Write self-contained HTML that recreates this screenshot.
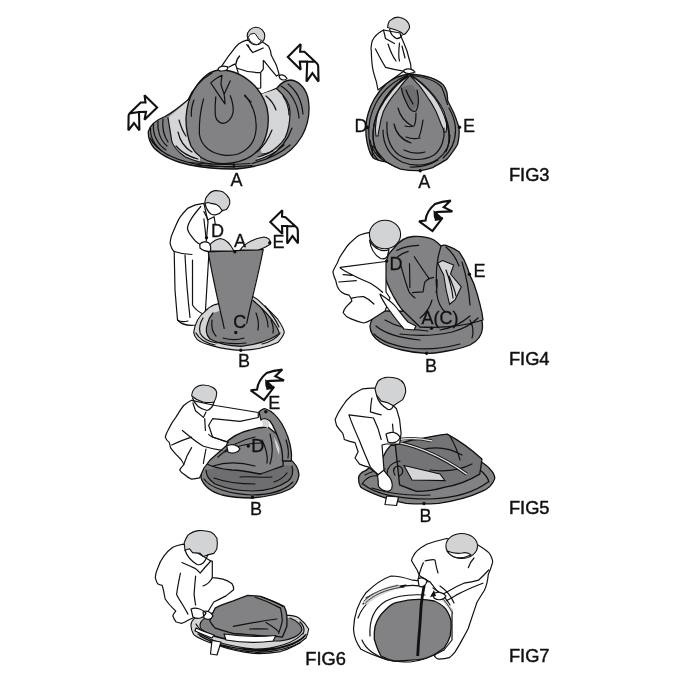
<!DOCTYPE html>
<html><head><meta charset="utf-8">
<style>
html,body{margin:0;padding:0;background:#fff;width:684px;height:684px;overflow:hidden}
svg{display:block}
text{font-family:"Liberation Sans",sans-serif;fill:#111;will-change:transform}
.d{fill:#828285;stroke:#111;stroke-width:1.3;stroke-linejoin:round}
.dn{fill:#828285;stroke:none}
.dk{fill:#6e6e71;stroke:none}
.l{fill:#d4d5d7;stroke:#111;stroke-width:1.1}
.ln{fill:#d4d5d7;stroke:none}
.w{fill:#fff;stroke:#111;stroke-width:1.2;stroke-linejoin:round}
.s{fill:none;stroke:#111;stroke-width:1.2;stroke-linecap:round;stroke-linejoin:round}
.h{fill:#d2d3d5;stroke:#111;stroke-width:1.1;stroke-linejoin:round}
.ar{fill:#fff;stroke:#111;stroke-width:2.1;stroke-linejoin:miter;stroke-miterlimit:2.6}
.lb{font-size:18px;stroke:#111;stroke-width:0.3}
.fg{font-size:18.3px;stroke:#111;stroke-width:0.45}
</style></head><body>
<svg width="684" height="684" viewBox="0 0 684 684">
<defs>
<path id="arD" d="M435,204 C440,202 446,201 450.7,200.6 L443.7,207.3 L452.4,211.4 C447,211.5 441,211.8 436.5,212 L436,219.5 L442.5,217.8 L432.5,231 L419.1,221.3 L425.5,220.5 C426,215 429,209 435,204 Z"/>
</defs>
<!-- ================= FIG 1 ================= -->
<g id="fig1">
<!-- person fig1 -->
<path class="w" d="M246.7,40.2 C243,41 240,43 238.8,43.7 C236,46 234,49 230,54.2 C227,58 224,63 221,67 L229,67 C231,66 233,65 235.3,63.9 C236,66 237,68 237,69 L238,72 L239,90 L260.7,88 L260.7,72.6 C261,72 262.5,70 263.3,69.1 L263.3,60.4 L264.2,61.2 C268,66 272,71 276.5,76.1 L279.1,74.4 C278.5,72 277.5,69 276.5,65.6 C275,62 273,59 271.2,55.1 C271,52 270,49 268.6,46.3 C267,45 265,43.5 262.5,42 Z"/>
<path class="s" d="M239.6,56 C237,59 236,62 236.1,64 M237,68.2 C244,71 252,72.5 259.8,72.6 M246.7,44.6 L252.8,52.5 L263.3,48 M248,45 C249,48 250,50 252.8,52.5"/>
<path class="d" d="M148.3,131.7 C150,125 156,120 165,116.5 C175,111 182,105 189,99 L262,94 C268,92 273,90 277,88 C281,83 286,80 291,80 C300,81 307,90 308.5,101 C310,112 308,125 302,136 C296,146 288,154 278,158.3 C268,163 258,166 248,167.5 C240,168.5 236,169 233,169 C220,169 205,168 190,165 C176,162 162,156 154,148 C150,143 148,138 148.3,131.7 Z"/>
<path class="ln" d="M168,117.5 C175,112 182,106 190,99 L200,99 L200,166 L212,164 C201,163 192,160 185,156.7 C177,151 172.5,146 171.5,140 C170.5,132 169,125 168,117.5 Z"/>
<path class="s" d="M168,117.5 C169,125 170.5,132 171.5,140 C172.5,146 177,151 185,156.7 C192,160 201,163 212,164"/>
<path class="ln" d="M258,95 C265,93 271,91 277,89 C285,96 290,104 290,112 C290,122 289,130 285,138 C281,144 276,148.5 270,152 C267,153.5 264.5,154 262,154 L260,148 Z"/>
<path class="s" d="M277,89 C285,96 290,104 290,112 C290,122 289,130 285,138 C281,144 276,148.5 270,152 C267,153.5 264.5,154 262,154 M256,160.5 C266,157.5 276,152 284,145 M252,163.5 C266,160 280,154 290,145 M258,157 C264,155.5 269,153.5 273,151"/>
<path fill="none" stroke="#e8e8e8" stroke-width="0.9" d="M257,158.6 C265,156.5 272,153 278,149"/>
<path class="s" d="M190,162.5 C210,165 230,165 250,163.5 M195,165 C212,167 232,167.2 252,165.7"/>
<path fill="#111" d="M232.8,163.5 L234.8,163.5 L234.8,167.5 L232.8,167.5 Z"/>
<path class="s" d="M150,138 C156,150 172,159 195,164 C210,166 225,167 235,167 M150.5,128 C150,138 156,148 168,155 M153.5,124 C152.5,134 157,144 166,150 M158,121 C157,130 160,140 167,146 M163,119 C162,128 164,136 168,142 M178,132 C180,141 185,148 192,152 M179,120 C181,127 183,132 186,136 M176,146 C182,153 190,157 198,159"/>
<path class="s" d="M281,86 C291,92 298,104 299,118 M288,84 C297,91 302,102 303,114 M283,96 C287,102 289,110 289,115 M266,96 C271,100 274,104 276,110 M272,130 C268,140 263,147 257,152 M292,128 C288,140 280,150 268,158"/>
<path class="d" d="M221,70 C234,70 246,77 255,86 C262,94 267,103 268,114 C269,125 267,136 262,145 C256,155 245,161 232,163 C226,164 220,164 215,163 C205,161 196,155 191,146 C187.5,137 185.8,127 186,118 C186.5,108 189,98 194,90 C200.5,79 210,70 221,70 Z"/>
<path class="s" d="M188,100 C192,90 200,80 212,73 M203.5,98.8 C200,112 199,124 199.4,134 M191.3,116.2 C191,110 192,105 194,100"/>
<path class="s" d="M245,95 C253,105 257,118 256,130 C255,142 248,150 238,154 C228,157 216,155 208,149 C203,145 200,140 199.4,134"/>
<path class="s" d="M215.8,96.8 C215,103 215,110 215.3,115.2 C216,120 219,123 223,123.4 C228,123 232,118 233.2,112.1 C233.5,106 232,100 230.2,95.7"/>
<path class="s" d="M210.7,82.9 C214,80 218,77 222,75.3 C221.5,78 221,81 221,84.5 C222,88 223,91 224,93.7 C224.5,97 225,100 225,104 C220,97 215,89 210.7,82.9 Z M230.2,80.9 C228,86 226,90 224,94.7"/>
<path class="s" d="M244.5,95.7 C247,98 249,100 251,102"/>
<circle class="h" cx="256" cy="36" r="8.8"/>
<path fill="#fff" stroke="#111" stroke-width="1" d="M248.4,37.5 C249,35 250.5,33.5 252,34 C253.5,33 255,33.5 255.4,34 C257,36 258,38 259,39.3 C260,40 261,40.3 261.6,40.2 C260,43 258,44.6 256.3,44.6 C252,44 249.5,41 248.4,37.5 Z"/>
<path class="w" d="M218,69 C219,66 224,65.5 227.5,67 C228.5,69.5 226,71 221,71 C219,71 218,70 218,69 Z M279,76 C281,74 285,75 287,78.5 C285.5,80.5 282,80.5 280,78.5 Z"/>
<text class="lb" x="230.4" y="185.8">A</text>
<path class="ar" d="M157.1,107.5 L144.5,95.2 L145.5,102.5 L140.7,102.5 L130,113 C129.2,113.8 128.6,114.8 128.6,116 L128.4,130.3 L134,123 L139.4,130.3 L139,112 L146,111.9 L144.5,119.8 Z M129.5,113.5 L139,112"/>
<path class="ar" d="M287.8,57 L300.7,44.1 L300.1,51.7 L304.5,51.7 L317,63.6 C317.8,64.4 318.2,65.4 318.2,66.6 L318.5,81.6 L312.4,73.1 L306.5,81.6 L307.2,61.6 L299.8,61.6 L300.7,69.8 Z M307.2,61.6 L316,61.8"/>
</g>
<!-- ================= FIG 2 ================= -->
<g id="fig2">
<!-- person fig2 -->
<path class="w" d="M383.5,30 C378,33 374,37 372.3,40.7 C371,46 371,50 371.3,51 C371.5,60 372,66 373.3,71.4 C374.5,76 375.5,79 376.4,82 L378,90 L386,84 L404,71 L411.2,70.4 C411,67 410.5,65 410.7,64.2 C409,59 408,55 407,51 C405,46 403,41 401,36.6 L400,33 Z"/>
<path class="s" d="M375.4,48.9 C379,56 382,62 385.6,67.3 C392,69 399,70.5 405,71.4 M383.5,30 L385.5,38.5 L394.5,43.5 M388,44 C390,50 393,57 396,61 M399.5,43 C398.5,52 398.5,58 399.5,61 M402,46 L405,58"/>
<path class="h" d="M387.6,27.4 C388,22 390,20 390.7,20.2 C393,18 396,17 398.9,17.2 C402,17.5 404,18.5 406,20.2 C408,22 409.5,25 409.6,27.4 C409,30 407,32 405,34 C403.5,35 402.5,34 402,33 C398,30 392,29 387.6,27.4 Z"/>
<path class="s" d="M389.7,29.4 C390.5,34 393,37 397,38.7 C399.5,38.5 401,37 402,35"/>
<path class="d" d="M409,74 C400,75 392,79 386,84 C378,92 371,103 368,114 C365,124 365.5,134 367,142 C368.5,149 370,154 372.8,157.4 C376,160 381,161 386,161.8 C391,165 396,167.5 400.5,169.1 C408,170.5 414,171 420.3,170.6 C425,170 429,169 432.7,167.6 C438,164.5 443,162 447.3,158.9 C452,153 455.5,148 457.6,144.2 C459,138 459.5,133 459,128.2 C458,124 457.5,123 457.4,122.6 C455.5,117 454,113 452.1,109.5 C450,105 448.5,103 447.7,100.7 C447.5,97 447.3,94 446.8,91.9 C445.5,88 444.5,86.5 443.3,84.9 C437,79 427,75 409,74 Z"/>
<path class="l" d="M412.4,75.9 C417,79 421,82 424.2,85.2 C429,90 433,94 436,98.3 C439.5,103 442,107 444,111.5 C445.5,115.5 446.3,120 446.6,124.6 C446.8,127 446.5,130 446,132 L444,132 C443.5,129 442.5,127 441.3,124.6 C439.5,120 438,116 436,111.5 C433.5,106.5 431,102 428.2,98.3 C425,93.5 422,89 418.9,85.2 C416,82 413.5,79 410.5,76 Z"/>
<path class="l" d="M407,76 C401,81 395.5,86 391.3,91.7 C386,98 381.5,105 378.2,111.5 C376.5,116.5 375.7,122 375.5,127.3 C375.4,130 375.6,133 376,136 L378,136 C378.3,133 378.8,130 379.5,127.3 C380.3,122 381.5,116.5 383.4,111.5 C386.5,105 391,98 396.6,91.7 C400.5,86.5 404.5,81 409,76.5 Z"/>
<path class="dk" d="M400.8,88 C404,86 408,85 412,85 C416,88 418.4,95 418.4,103 C417,108 414,110 411,110 C407,106 404,100 401.5,94 Z"/>
<path class="s" d="M409,74.5 C400,80 392,88 386,97 C378,109 373,122 373,134 C373,144 376,152 381,158 M409,74.5 C418,80 427,88 434,97 C440,105 444,114 447,124 C450,134 450,144 446,152"/>
<path class="s" d="M383,130 C383,145 390,156 402,162 C414,167 428,166 438,159 C446,153 450,144 450,135 M387,122 C386,136 390,148 399,155 C409,161 424,161 434,155 C442,149 445,138 444,128 M370,140 C372,152 380,160 392,165"/>
<path class="s" d="M401.5,88 C402,94 405,100 408,106 C410,110 413,112 416,111 C419,106 419,98 417,90 M406,90 C408,96 411,100 413,104"/>
<path class="s" d="M398,108 C400,116 405,122 412,126 M416,113 C416,119 416,123 414,126 C411,127 408,127 405,126 M394,124 C396,133 402,140 411,143 M406,137 C411,139 416,139 420,138 M423,120 C422,127 421,132 419,137 M404,150 C410,153 418,154 425,152"/>
<path class="s" d="M372.8,157.4 C372,152 372,148 373,146 C376,150 380,155 386,161.8"/>
<path class="s" d="M407,75.5 C395,80 383,90 376,103 C370,114 368,126 369,138 C370,148 373,155 378,160 M408,76.5 C397,83 387,93 380.5,106 C375.5,116 372.5,127 373,138 C373.5,146 376,152 380,157 M412,75.5 C425,77 436,81 441.5,87 C444.5,93 445.5,99 447.5,104.5 M449,108 C453,115 455.5,122 455.5,130 C455.5,141 451,151 443,158 M438,160 C430,165 420,167.5 410,167 M446,118 C449,126 450,134 449,142"/>

<circle cx="367.4" cy="127.4" r="1.8" fill="#111"/><circle cx="459.5" cy="127.3" r="1.7" fill="#111"/><circle cx="420.2" cy="170.7" r="1.7" fill="#111"/>
<path class="w" d="M404,70 C408,68 413,69 415,72 C411,74 406,74 404,72 Z"/>
<text class="lb" x="354.4" y="132.3">D</text>
<text class="lb" x="463.1" y="132.1">E</text>
<text class="lb" x="418.2" y="187.8">A</text>
</g>
<!-- ================= FIG 3 ================= -->
<g id="fig3">
<!-- person fig3 -->
<path class="w" d="M203.9,203.4 C200,204 197,204.5 195.7,204.9 C192,206 189.5,207.5 187.5,208.5 C184,212 182,214.5 180.4,216.7 C178,220 176.5,224 175.2,226.9 C173.5,231 172,234 171.1,237.2 C170.5,240 170,242 170.1,243.3 C171,247 172.5,250 174.2,251.5 L175,290 L177.5,320 C181,324 188,326 196,325 L205,318 L209,252 L206,244 L208,222 Z"/>
<path class="s" d="M200.8,206.5 C196,212 192,217 189.6,221.8 C188,225 187.3,227 187.5,229 C188,231 189,233 190.6,235.1 C192,237 194,239.5 195.7,241.3 C197,242.5 198.5,243.5 199.8,244.3 M203.9,218.8 C204.5,225 205.5,232 205.9,237.2 M203.9,211.6 L208,219.8 L214.1,216.7 L215.2,223.9 M185,255 C186,275 188,300 190,317.5 M192.5,260 C192.5,280 192.5,295 192.5,305 C195,309 199,312 202.5,313.8 M174.2,251.5 C180,253.5 186,254.5 192,254.5 M177.5,320 C180,322 184,322 188,321"/>
<path class="h" d="M204.9,203.4 C205,199 206,197 208,195.2 C210,192 212.5,191 215.2,190.6 C218,190.5 221,191 223.3,192.1 C226,194 228,196 229,198.3 C229.8,200 230,202 229.5,204.4 C228.5,207 227.5,208.5 226.4,209.5 L222.3,210.6 L219.2,206.5 L216.2,204.4 L211.1,203.4 L208,202.4 Z"/>
<path class="s" d="M205,203.5 C206,208 208,212 211,214 C213,215 215,215 216.2,214.7 C219,214 221,212.5 222.3,210.6"/>
<path class="l" d="M193.7,332.4 C195,323 199,316 204.6,311.9 C208,308 211,306 214.9,304.6 L251.4,295.8 C256,298 260,301 263.1,304.6 C269,310 274,315 277.7,319.2 C281,324 284,329 284.3,332.4 C283,337 280,340 277.7,342.6 C268,347 255,350 241.2,350.4 C230,350 220,348 211.9,345.6 C205,344 200,342 197.3,339.7 C195,337 194,335 193.7,332.4 Z"/>
<path class="s" d="M196,333 C199,339 206,343 215,345 M200,333 C203,339 209,342 217,343 M280,333 C277,338 270,342 262,344 M265,306 C271,313 276,320 279,327 M203,318 C200,323 199,328 200,332"/>
<path class="dn" d="M207.5,323.6 C208.5,319 210.5,316 213,313 L252.9,300.2 C262,308 270,316 275.5,325 C278,329 279.5,332 279.2,333.9 C270,340 257,344.5 241.2,346.3 C228,346 217,343 210,339 C206,335 205.5,329 207.5,323.6 Z"/>
<path class="s" d="M213,313 C210.5,316 208.5,319 207.5,323.6 C205.5,329 206,335 210,339 C217,343 228,346 241.2,346.3 C257,344.5 270,340 279.2,333.9 C279.5,332 278,329 275.5,325 C270,316 262,308 252.9,300.2"/>
<path class="dn" d="M208.2,251.8 L263.2,249.3 C259,270 252,295 246.7,323.3 L224.2,328.3 C218,300 212,275 208.2,251.8 Z"/>
<path class="s" d="M208.2,251.8 C213,280 219,305 224.2,328.3 M263.2,249.3 C259,272 252,298 246.7,323.3 M208.2,251.8 L263.2,249.3"/>
<path class="s" d="M212,320 C211,328 213,333 216,336 M223,338 C230,340 238,340 244,338 M220,342 C228,344 238,344 246,343 M262,309 C266,315 268,321 268,327 M256,313 C258,318 259,324 258,330 M271,320 C273,325 274,329 273,333"/>
<path class="l" d="M207.3,251 C208,245 213,240 220,238.5 C226,239 231,245 234,251 Z"/>
<path class="l" d="M240,250 C245,243 255,238 264,237 C268,237.5 271,240 270.5,244 C266,247 262,249 258,250 Z"/>
<path class="w" d="M199.8,244.3 C202,241.5 206,241 209,243 C211,246 211,249.5 210,251.5 C206,251.5 202,250 200,248 Z"/>
<circle cx="234.8" cy="251.8" r="1.7" fill="#111"/><circle cx="206.5" cy="237.7" r="1.7" fill="#111"/><circle cx="269.8" cy="242.7" r="1.7" fill="#111"/><circle cx="235.8" cy="332.5" r="1.7" fill="#111"/><circle cx="240.8" cy="350.3" r="1.7" fill="#111"/>
<text class="lb" x="210.9" y="237.4">D</text>
<text class="lb" x="234" y="246.7">A</text>
<text class="lb" x="272.5" y="247.6">E</text>
<text class="lb" x="233.2" y="328.3">C</text>
<text class="lb" x="237.9" y="366.9">B</text>
<path class="ar" d="M270.3,222 L282.3,210.3 L282,216.7 L285.5,217.3 L296.7,227.6 C297.4,228.3 297.8,229.3 297.8,230.4 L298,243.3 L292.5,236 L287.2,243.6 L287.2,226 L282,226 L282.3,233.7 Z M287.2,226 L296,226.3"/>
</g>
<!-- ================= FIG 4 ================= -->
<g id="fig4">
<path class="d" d="M370,326 C370.5,319 376,314 385,311 L476,312 C481,316 483,322 482.5,328 C482,335 478,341 470,345 C462,348 455,350 447,351 C440,352.5 432,353.5 426.6,353.4 C418,353 410,352 402,350 C393,348 386,346 380,342 C374,338 370,333 370,326 Z"/>
<path class="d" d="M394,248 C399,241 406,237 413,236.5 C420,236 428,237 434,240 C437,242 439,244 440.7,245.8 C443,245 445,245 446,245.3 C451,247 455,249 459,251.7 C462,256 465,261 467.1,266.9 C468,269 468.8,272 469.4,274 C471,278 472.8,281 474.1,284.4 C476.5,291 478.5,298 480,304.3 C481.5,310 482.5,315 483,320 C465,326 440,328 420,327 L401.7,309.3 C397,303 395,299 393.3,296 C389,288 386,281 384,274 C383,268 383.5,264 385,261 C387,256 390,252 394,248 Z"/>
<path class="l" d="M442.5,260.5 L453.7,265.1 L450.5,274 L461.3,286.8 L455,300 L449.6,304.3 C447,295 445,285 443.7,275 C441,270 439,266 438,263 Z"/>
<path class="s" d="M446,270 C449,278 452,288 453,298 M449,276 C452,283 455,290 456,296"/>
<path class="s" d="M374,334 C382,342 395,346 410,348 C425,350 445,348 460,344 M376,326 C385,334 400,338 420,340 M385,320 C395,326 410,330 428,331 M400,334 C415,336 435,336 452,332 C463,329 472,324 478,318 M470,320 C473,326 474,332 472,338 M440,330 C452,328 462,323 470,316"/>
<path class="s" d="M396.8,250.5 C403,247 411,245.5 418.7,245.3 M397.6,256.7 C401,254 404.5,252.5 408.2,251.4 M401.1,266.3 C403.5,275 406,284 409,291.8 C411,294.5 413,296.5 415,298 M409.5,263.7 C409.7,272 409.8,280 409.9,287.4 M414.3,256.7 C419,264 424,271.5 429.2,278.6 L433.6,277.3 M429.2,278.6 C427.5,279.5 426,280.8 424.8,282.1 C424,285 423.5,288.5 423.1,291.8 C419.5,292 416,292.3 412.5,292.6 M437.1,279.5 C437.5,284 437,288.5 436.2,292.6 M441,246 C437,258 435,275 437,295 C438,302 441,308 445,312 M462,262 C466,275 469,290 470,305 M432,300 C430,308 425,314 420,318 M446,247 C452,252 456,258 459,266"/>
<!-- person fig4 -->
<path class="w" d="M369.5,232.3 C365,233 362,234 359.2,235.2 C355,238 352,241 349,244 C346,247 344,251 341.7,254.2 C339.5,257 338.5,260 337.3,263 C335.5,266 334,269 332.9,271.8 C333.5,275 334.5,278 335.8,280.6 C336.3,283 336.8,285 337.3,286.4 C338.5,289 340,291 341.7,292.3 C344,294 346.5,294.8 349,295.2 C350.5,297 351.5,299 351.9,301 C350,303 348,305 346.1,306.9 C344.5,309 343.5,311 343.2,312.7 C345,315.5 347.5,317.5 350.5,318.6 C355,320.5 359,322 363.6,323 C366,322.5 368.5,321.5 370.9,320 L385,311 L390,298 L386,292 L386,262 L388,256 L378,250 Z"/>
<path class="s" d="M340.2,267.4 L385.6,261.5 M340.2,268.1 C343,270 346,272 349,273.2 C356,277 363,280 370.9,283.5 C375,286 379,289 382.6,292.3 M343.2,274.7 C346,275 349,275.2 352,275.4 M338.8,282 C345,281.5 351,281 356.3,280.6 M351.9,298.1 C356,297 360,296.5 363.6,296.6 C367,298 371,301 373.9,304 M371,244 C373,248 375.5,251.5 378.2,254.2 C380,256 382,257.5 384.1,258.6"/>
<path class="w" d="M380,294 C386,298 392,302 396,307 C400,312 404,318 408,322 L416,326 L414,330 L404,329 C398,322 392,314 387,307 C384,302 381,298 380,294 Z"/>
<ellipse class="h" cx="385" cy="234.5" rx="15.6" ry="14.2"/>
<path class="w" d="M369.5,240 C370.5,248 374.5,255 380.5,258.5 C383.5,259.5 386,258.5 387.5,256 L389,249.5 C385,251.5 380,250.5 376,248 C373,246 371,243.5 369.5,240 Z"/>
<circle cx="386.7" cy="261" r="1.7" fill="#111"/><circle cx="469.4" cy="274.2" r="1.7" fill="#111"/><circle cx="431.5" cy="328.3" r="1.7" fill="#111"/><circle cx="426.6" cy="353.2" r="1.7" fill="#111"/>
<text class="lb" x="389.6" y="270.3">D</text>
<text class="lb" x="473.6" y="277.4">E</text>
<text class="lb" x="421.5" y="324.3">A(C)</text>
<text class="lb" x="425.1" y="372">B</text>
<use href="#arD" class="ar"/>
<path fill="#111" d="M433.5,210.3 L436.5,212.3 L442.5,217.9 L440,220.3 L435.2,220.5 L433.8,216.7 Z"/>
</g>
<!-- ================= FIG 5 left ================= -->
<g id="fig5a">
<path class="d" d="M201,478 C201,470 203,464 208,461 C215,459 225,459 235,459 L288,458 C295,462 299,469 299,475 C298,482 295,486 290,489 C280,494 266,497 252,498 C240,498 230,497 222,495 C212,492 204,487 201,478 Z"/>
<path class="dk" d="M206,470 C214,468 222,469 232,470 C245,472 255,474 262,474 C270,472 278,468 284,465 L292,466 C294,472 292,478 288,481 C278,488 265,491 252,491 C238,491 225,488 215,484 C209,480 206,475 206,470 Z"/>
<path class="s" d="M206,470 C206,475 209,480 215,484 C225,488 238,491 252,491 C265,491 278,488 288,481 C292,478 294,472 292,466 M204,479 C210,488 230,494 252,495 C270,495 285,490 293,482 M214,478 C225,482 240,484 255,484 M240,477 C250,476 262,478 272,477 M274,482 C280,480 284,477 287,473"/>
<path class="d" d="M207,464 C210,458 215,452 222,446 C230,438 240,432 250,430 C256,428 262,427 268,427 L284,440 L283,466 C276,468 268,472 260,474 C250,472 240,470 232,470 C222,469 214,468 207,464 Z"/>
<path class="d" d="M259,412 C262,409 264,408 266,409 C272,411 277,416 282,424 C287,433 290,442 291,450 C292,455 291.5,458 291.3,461 L282.5,461 C283,452 281,445 279,440 C276,432 273,425 270,421 C266,418 263,418 261,420 Z"/>
<path class="ln" d="M262,421 C265,419 268,420 269.5,423 L268,428 L263,426 Z M274,437 C276,440 278,444 279.5,449 L279,455 C277,450 275,444 274,437 Z"/>
<path class="s" d="M218,457 C228,447 240,440 255,437 M225,452 C236,446 248,443 262,443 M213,466 C225,462 240,462 255,466 M262,440 C266,448 268,456 267,463 M270,434 C273,445 273,455 270,464 M286,440 C288,446 289,452 288,458"/>
<!-- person fig5a -->
<path class="w" d="M191.6,400.3 C188,402 185.5,404 183.7,405.5 C180,410 178,414 175.8,417.4 C172,422 170,426 167.9,430.5 C166.5,433 165.5,435 165.3,437.1 C166,439.5 167.5,441 169.2,442.4 C169.8,444 170.2,446 170.5,447.6 C172,450 174,452 175.8,454.2 C177.5,456 179.5,458 181,459.5 C182.5,461.5 183.5,463 183.7,464.7 C182,466.5 180.5,468 179.7,470 C180.5,471.5 182,473 183.7,474 C186,476 189,478 191.6,479.2 C194,479 197,478.5 199.5,477.9 L204,468 L210,460 L226,446 L228,442 L212.6,437 L208.7,425.3 L212.6,418.7 L240,421.3 L258.3,417.5 L258.3,412.5 L240,409.5 L215.3,405.5 Z"/>
<path class="s" d="M171.8,445 C178,442 185,439 191.6,437.1 M182.4,430.5 C189,436 196,442 203.4,446.3 C209,448 215,449.5 221.8,450.3 M191.6,447.6 C188,453 185.5,459 183.7,464.7 M206,449 C205,454 204,459 203.4,463.4 M208.7,434.5 C209.5,435.5 211,436.5 212.6,437.1 C218,439 223,441 228.4,442.4 M192.9,402.9 L195.5,410.8 L203.4,417.4 L206,412.1 M204.7,418.7 L205.4,430.5"/>
<path class="h" d="M191.7,396 C192,389 197,385 203.3,385 C211,385 216.7,389 216.7,393.3 C216.5,397 215.5,400 214,402 C210,403 206,402.5 203,402 C199,401 195,399 191.7,396 Z"/>
<path class="s" d="M192.5,398 C195,405 200,409 207,410.5 C210.5,409.5 213,406 214,402"/>
<path class="w" d="M226.7,446 C232,443 238,445 240,449 C238,453 232,454 228,452 Z"/>
<circle cx="265.8" cy="411.8" r="1.7" fill="#111"/><circle cx="248.3" cy="446" r="1.7" fill="#111"/><circle cx="252.5" cy="497.2" r="1.7" fill="#111"/>
<text class="lb" x="268.3" y="408.7">E</text>
<text class="lb" x="251.2" y="451.8">D</text>
<text class="lb" x="249.9" y="514.9">B</text>
<use href="#arD" class="ar" transform="translate(-168.4,169)"/>
<path fill="#111" transform="translate(-168.4,169)" d="M433.5,210.3 L436.5,212.3 L442.5,217.9 L440,220.3 L435.2,220.5 L433.8,216.7 Z"/>
</g>
<!-- ================= FIG 5 right ================= -->
<g id="fig5b">
<path class="d" d="M358.5,478.4 C359,474 362,472 365,470.9 C372,466 378,462 383,457 C385,452 388,448 391,445 L420,446 L481.9,462.2 C486,465 489,467 490.5,469.8 C493,472 494.5,475 494.8,478.4 C493,484 488,489 481.9,491.4 C470,497 455,501 438.6,503.3 C428,504 416,504 406.1,503.3 C395,501 384,498 373.6,493.6 C367,491 363,489 360.7,487.1 C359,484 358.5,481 358.5,478.4 Z"/>
<path class="s" d="M363,484 C375,494 400,499 430,499 C455,498 475,492 488,482 M365,475 C370,472 378,470 385,469 M480,470 C485,474 488,478 489,482 M372,488 C390,494 410,496 430,495"/>
<path class="d" style="fill:#747477" d="M395.3,444.9 C403,442 410,440 416.9,439.5 C428,437 438,435 447.2,434.1 C460,441 472,450 481.9,459 C481.5,464 480.5,469 479.7,474.1 C470,480 458,485 445.1,487.1 C435,490 425,491.4 416.9,491.4 C410,489 404,487 399.6,484.9 Z"/>
<path class="s" d="M420,450 C435,446 450,448 462,455 M430,470 C445,472 460,470 472,464 M450,436 C455,445 458,452 460,460"/>
<path d="M393,440.5 C405,438 420,438 432,441" fill="none" stroke="#111" stroke-width="3.2"/>
<path d="M393,440.5 C405,438 420,438 432,441" fill="none" stroke="#e0e0e0" stroke-width="1.3"/>
<path d="M391,441.6 C410,443 440,455 466.7,474.1" fill="none" stroke="#111" stroke-width="3.4"/>
<path d="M391,441.6 C410,443 440,455 466.7,474.1" fill="none" stroke="#e0e0e0" stroke-width="1.4"/>
<path class="l" d="M404,465.5 L440,474 L445,480.6 L412,480 Z"/>
<path class="s" d="M395,475 C392,470 394,466 399,466 C404,468 404,474 399,476 M390,479 C384,473 388,463 400,461 M362,484 C366,478 372,475 378,476"/>
<path class="w" d="M386.6,496 L398.5,497 L396.5,505.5 L385,504.5 Z"/>
<path class="w" d="M376,471.5 C377.5,475 378.3,478 378.2,481 C378,483 378.3,485 378.7,486.7 C380,488.5 381.5,489.5 383.4,490.2 C385,491 386.5,491.4 388.1,491.4 C389.5,490.8 390.8,490 391.6,489 C392.3,487 392.4,485.5 392.2,483.8 C391.8,482 391.2,480 390.4,478.5 C389.5,477 388.5,476 387.5,475 C386,472.5 384,470.5 382.2,469 Z"/>

<!-- person fig5b -->
<path class="w" d="M375,388.1 C370,388 366,388.3 362.7,388.8 C358,391 355,393 352,395 C348,398.5 345,402 342.8,405.7 C339,411 337,415 335.1,419.5 C335.5,421.5 336,423.5 336.6,425.7 C338.5,428.5 340.5,431 342.8,433.4 C343.5,435.5 344,437.5 344.3,439.5 C348,441 351.5,442 355,442.6 C356,445.5 357,448.5 358.1,451.8 C357,454 356,456 355,458 C356.5,460 358,462 359.6,464.1 C362.5,465.5 365.5,466.5 368.9,467.2 L378.1,474.8 L384,470 L382,445 L386,444 L399.6,444 L401.1,433.4 L399.6,419.5 L396.5,408.8 Z"/>
<path class="s" d="M348.9,414.9 C352,424 356,433 359.6,441 C363,450 367,459 370.4,467.2 C373,470 375.5,472.5 378.1,474.8 M348.9,414.9 C357,416 365,417 373.5,418 C375,421.5 376.5,425 378.1,428.8 C379,432 380.2,436 381.2,439.5 M371.9,398 C371,403 370.5,408 370.4,411.9 C374,413 377.5,414 381.2,414.9 M392.5,424 L394,440"/>
<path class="h" d="M375,388.8 C376,385 377,383 378.1,381.1 C381,378.5 384,377.5 387.3,377.3 C391,377 395,377.5 398,378.8 C401,380 403,382 404.2,384.2 C405.3,386.5 405.8,389 405.7,391.9 C405,395 404,397.5 402.7,399.6 L393.4,405.7 L387.3,402.6 L381.2,401.1 L376.5,395 Z"/>
<path class="s" d="M376.5,395 C378,401 382,406 388,409.5 C390.5,410 392.5,408 393.4,405.7"/>
<path class="w" d="M386,434 C391,431 397,432 400,437 C399,442 393,444 388,442 Z"/>
<circle cx="424" cy="503.5" r="1.7" fill="#111"/>
<text class="lb" x="419.4" y="521.8">B</text>
</g>
<!-- ================= FIG 6 ================= -->
<g id="fig6">
<path class="l" d="M190.9,625.3 C191,620 196,616 205,613 L289.7,615.4 C295,616 298,617 298.8,618 C304,622 307,626 308.7,629 C308,633 307,636 306,638 C299,644 292,648 280.6,651.6 C272,653 262,654 253.5,653.4 C240,652 228,649 217.2,645.3 C205,641 196,637 193.6,634.4 C191.5,631 191,628 190.9,625.3 Z"/>
<path class="s" d="M196,630 C205,640 230,647 255,649 C275,649 295,643 303,633 M200,636 C215,645 240,650 260,651 C280,650 298,644 305,636 M198,634 C210,643 232,648.5 255,650 C276,650 296,645 306,634.5 M210,642 C225,648 242,651.5 258,652.3 C276,652 290,648 300,643 M196,624 C200,632 215,638 235,641 M300,622 C304,626 305,630 303,634"/>
<path class="dn" d="M200,625 C200,620 206,617 212,615 L290,618 C298,621 302,626 302,630 C300,636 290,640 280,641 L240,641 C225,639 210,635 204,631 Z"/>
<path class="s" d="M200,625 C200,620 206,617 212,615 M290,618 C298,621 302,626 302,630 C300,636 290,640 280,641 L240,641 C225,639 210,635 204,631 C201,629 200,627 200,625"/>
<path class="d" d="M215.2,608.1 C221,605 227,603 233.3,600.9 C238,599 243,597 247.8,595.4 C252,595.5 256,596 260.5,596.3 C268,599 276,602 284.1,606.3 C285.5,609 286.5,612 286.8,615.4 C287,619 287,622.5 286.8,626.3 C285.5,630 284,633.5 282.3,637.1 C274,636.5 265,636 256.9,635.3 C249,634.8 241,634 233.3,633.5 C227,632 221,630 215.2,628.1 C213,626 211,623.5 209.8,620.8 C211,616 213,612 215.2,608.1 Z"/>
<path class="s" d="M255.1,597.3 C264,600 273,604 280.5,608.1 C281.5,612 282,616 282.3,620.8 C281.5,625 280,629 278.6,633.5 M233.3,626.3 C248,623.5 262,621 276.8,619 M266,622.6 C270,625 275,628 278.6,631.7 M249.6,629 C256,628.8 262,628.8 267.8,629 M262,597 C270,600 277,603 283,606.5"/>
<path class="w" d="M224,634 C240,636.5 258,637 276,635.5 L273,641 C258,643 240,642.5 226,640 Z M196,628 C202,631 208,633 214,635 L212,638 C206,636 200,633 195,631 Z"/>
<path class="w" d="M212,640.5 L221,642 L217,655 L210.5,654 Z"/>
<!-- person fig6 -->
<path class="w" d="M183.4,544.2 C179,545 175.5,546 172.8,547.3 C169,550 166,553 163.7,556.4 C161,560 159,564 157.6,568.6 C156,572 155.5,575 155.3,577.7 C155.8,580 156.5,582 157.6,583.8 C159,584.8 160.5,585.2 162.2,585.3 C162.8,587.5 163.3,589.5 163.7,591.3 C164.2,594 164.7,596.5 165.2,599 C167.5,602.5 170,605.5 172.8,608.1 C173.8,609 174.8,610 175.8,611.1 C174.5,612.5 173.5,614 172.8,615.7 C173.5,617.8 174.5,619.8 175.8,621.7 C178,622.5 180,623 181.9,623.3 C184,622.5 186,621.5 188,620.2 L195,617 L206,615 L213.8,602 C218,600 222,598 226,595.9 C229,593.5 231.5,591.5 233.6,589.8 C233.8,587.5 233.2,585.5 232.1,583.8 C229,581.5 226,580 222.9,579.2 C219,578.3 215.5,577.8 212.3,577.7 L212.3,561 L210.8,561 Z"/>
<path class="s" d="M180.4,573.1 C179,580 177.5,587 176.6,594.4 C178,597.5 180,600.5 181.9,603.5 C184,607 186,610.5 188,614.1 M195.6,576.2 C195,582 194.5,588 194.1,594.4 C194.5,598 195,601.5 195.6,605 M181.9,562.5 C186.5,564.5 191,566.5 195.6,568.6 C197,570 198.7,571.5 200.2,573.1 C203.5,569 207,565 210.8,561 M212.3,577.7 C210,582 206,585 203,586"/>
<path class="h" d="M184.2,542.7 C185.5,539.5 186.5,537 188,535.1 C191.5,532 195,531 198.6,530.6 C203,530.3 207,530.8 210.8,532.1 C213.5,533.5 215.5,535.5 216.9,538.2 C217.5,541.5 217.5,545 216.9,548.8 C216,550.5 215,552 213.8,553.4 L207.8,554.9 L203.2,556.4 L200.2,553.4 L192.6,552.6 L189.5,548.8 L185,550.3 Z"/>
<path class="s" d="M185,550.3 C187,556 191,561 197,564.5 C201,565.5 204,564 207.8,554.9"/>
<path class="w" d="M191,609 C196,607 202,609 206,613 C204,618 198,620 193,617 Z M203,612 C207,610 211,612 213,616 C211,620 207,620 204,618 Z"/>
<text class="fg" x="305.3" y="665.4">FIG6</text>
</g>
<!-- ================= FIG 7 ================= -->
<g id="fig7">
<!-- person fig7 body -->
<path class="w" d="M446.7,538.5 C440,540 433,542 426.7,544.3 C420,548 415,552 413.3,556 C411.5,559 411.5,561 411.7,561 C414,565 416,568 416.7,569.3 C418,572 419,575 420,576 L430,582 L452,612 L444,650 L437.5,651.9 C436,653 434.5,655 434.6,656.3 C436,658 437.5,659 439,659.2 C443,659 446.5,658.5 449.2,657.7 C451.5,656 453.5,654 455.1,651.9 C456.5,649.5 458,647 459.5,644.6 C462.5,639 465.5,634 468.2,628.5 C471,620 474,611 477,602.2 C479.5,598 482,594 484.3,590.5 C486,587 487.5,584 488.3,574.3 C490,571 491,568 492.5,562.7 C493,561 492,558 490,554.3 C488,551 483,548 476.7,544.3 Z"/>
<path class="s" d="M488.7,570 C485,574 482,577 478.5,580.2 C474,581.5 469,582.5 463.9,583.2 C459.5,585 455.5,587 452.2,589 C448.5,591 445,593 441.9,594.9 M482.9,583.2 C475,586 466,590 456.5,594.9 C453,597 449.5,599 446.3,600.7 M423.3,562.7 C421,568 419,574 418.3,579.3 M425,561 C430,560 433,559 435,560 C436,566 437,570 438,573 M468.3,567.7 C470,563 472,560 474,558"/>
<path class="w" d="M353.5,629.3 C354,615 358,603 366,592.7 C375,584 385,578 391,576 C398,576 406,578 412.7,580.2 L430,582 L452,610 L452,640 L444,650 C430,658 420,661 410,662 C400,662 392,661 387.7,660 C378,657 370,654 361,649.3 C357,644 354,637 353.5,629.3 Z"/>
<path class="s" d="M358,618 C364,602 378,592 398,587 C408,585 418,585 425,587 M363,604 C372,594 386,589 404,587 M366,598 C376,591 390,587 406,585 M362,640 C366,650 376,656 388,660 M370,636 C369,620 374,608 386,601 C396,596 410,594 425,595 M433,588 C440,592 446,598 450,605 M440,586 C446,590 451,596 454,603"/>
<path class="ln" d="M363,602 C371,593 383,587 398,584 L401,588.5 C387,591 375,597 367,605 Z"/>
<path class="s" style="stroke-width:0.8" d="M364,601 C372,593 384,588 398,585.5 M365.5,603 C373,595 385,590 399.5,587.5"/>
<path class="ln" d="M441,596 C446,600 450,605 453,611 L451,613 C448,607 444,602 439,598 Z"/>
<path class="s" style="stroke-width:0.8" d="M441,597 C445,601 449,606 452,612"/>
<path class="d" d="M384.3,611 C389,606 393,603.5 396,602.7 C404,600.5 412,599.3 419.3,599.3 C426,599.3 430,600 434.3,601 C440,603.5 443.5,606 446,609.3 C449,614 450.5,618 451,621 C451.5,626 451,631 450.2,636 C449,640 447,644 444.3,647.7 C440,651 436,654 431,656 C425,659 418,660 411,660.2 C405,661 399,661 394.3,661 C390,660 385,658 381,656 C378,651 376,645 374.3,639.3 C374,634 374.3,630 375.2,626 C377,620 380,615 384.3,611 Z"/>
<path d="M424.3,584.3 C423,592 421.5,600 421,607.7 C420.5,616 420,625 419.3,632.7 C418.5,641 418,649 417.7,656" fill="none" stroke="#111" stroke-width="2.8"/>
<ellipse class="h" cx="461.7" cy="546" rx="15.8" ry="12.5"/>
<path class="w" d="M447,551 C452,558 460,560 471,555 C469,553 466,552 462,553 C457,554 452,553 447,551 Z"/>
<path class="w" d="M433,594 C437,591 443,592 446,596 C444,600 438,601 434,598 Z M418,579 C421,577 425,578 427,581 C426,586 422,588 419,586 Z"/>
<path fill="#111" d="M430,597 L434,590 L436,596 Z"/>
<text class="fg" x="508.9" y="662.2">FIG7</text>
</g>

<text class="fg" x="508.9" y="180.6">FIG3</text>
<text class="fg" x="508.9" y="364.9">FIG4</text>
<text class="fg" x="508.9" y="513.7">FIG5</text>
</svg>
</body></html>
